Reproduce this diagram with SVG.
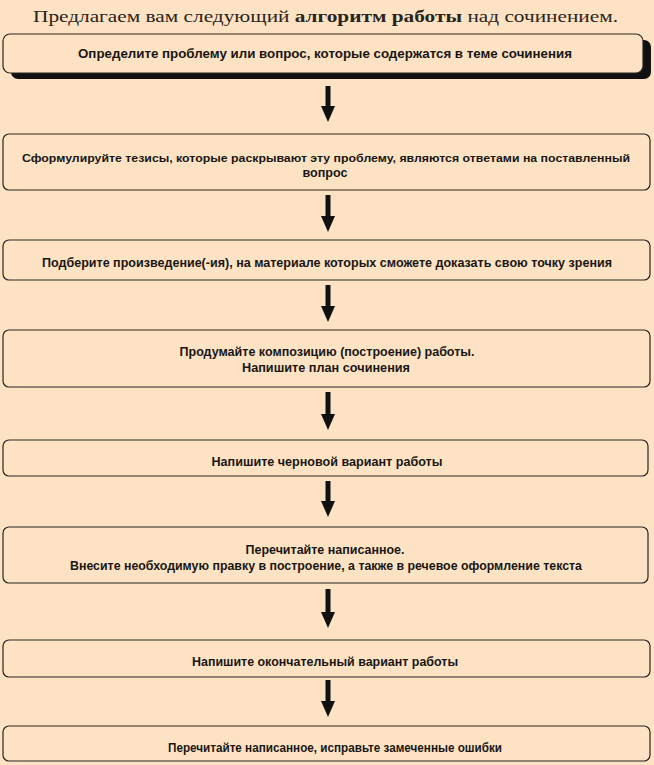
<svg xmlns="http://www.w3.org/2000/svg" width="654" height="765" viewBox="0 0 654 765">
<style>
.box{fill:#fde3c3;stroke:#2a2420;stroke-width:1.2}
.t{font-family:"Liberation Sans","DejaVu Sans",sans-serif;font-size:13px;font-weight:bold;fill:#1a1614;text-anchor:middle}
.title{font-family:"Liberation Serif","DejaVu Serif",serif;font-size:17.5px;fill:#2a2420}
.shaft{stroke:#111;stroke-width:5}
</style>
<defs>
<marker id="ah" markerWidth="3.2" markerHeight="2.8" refX="1" refY="7" orient="auto" markerUnits="strokeWidth" viewBox="0 0 16 14">
<path d="M0,0 L16,7 L0,14 Z" fill="#111"/>
</marker>
</defs>
<rect width="654" height="765" fill="#fde3c3"/>
<text class="title" x="33" y="22" textLength="585" lengthAdjust="spacingAndGlyphs">Предлагаем вам следующий <tspan font-weight="bold">алгоритм работы</tspan> над сочинением.</text>

<g id="connectors">
<line class="shaft" x1="328" y1="86" x2="328" y2="107" marker-end="url(#ah)"/>
<line class="shaft" x1="328" y1="195" x2="328" y2="217" marker-end="url(#ah)"/>
<line class="shaft" x1="328" y1="285" x2="328" y2="307" marker-end="url(#ah)"/>
<line class="shaft" x1="328" y1="392" x2="328" y2="415" marker-end="url(#ah)"/>
<line class="shaft" x1="328" y1="481" x2="328" y2="502" marker-end="url(#ah)"/>
<line class="shaft" x1="328" y1="589" x2="328" y2="613" marker-end="url(#ah)"/>
<line class="shaft" x1="328" y1="680" x2="328" y2="702" marker-end="url(#ah)"/>
</g>

<g id="n1">
<rect x="11" y="40" width="640" height="39" rx="7" fill="#111"/>
<rect class="box" x="3" y="34" width="640" height="39" rx="7"/>
<text class="t" x="325" y="58" textLength="494" lengthAdjust="spacingAndGlyphs">Определите проблему или вопрос, которые содержатся в теме сочинения</text>
</g>
<g id="n2">
<rect class="box" x="3" y="134" width="647" height="56" rx="6"/>
<text class="t" x="326" y="162" style="font-size:11.5px" textLength="608" lengthAdjust="spacingAndGlyphs">Сформулируйте тезисы, которые  раскрывают эту проблему, являются ответами на поставленный</text>
<text class="t" x="325" y="177" textLength="45" lengthAdjust="spacingAndGlyphs">вопрос</text>
</g>
<g id="n3">
<rect class="box" x="3" y="240" width="647" height="40" rx="6"/>
<text class="t" x="327" y="267" textLength="570" lengthAdjust="spacingAndGlyphs">Подберите  произведение(-ия),  на материале которых сможете доказать свою точку зрения</text>
</g>
<g id="n4">
<rect class="box" x="3" y="330" width="647" height="57" rx="6"/>
<text class="t" x="327" y="356" textLength="295" lengthAdjust="spacingAndGlyphs">Продумайте композицию (построение) работы.</text>
<text class="t" x="326" y="372" textLength="168" lengthAdjust="spacingAndGlyphs">Напишите план  сочинения</text>
</g>
<g id="n5">
<rect class="box" x="3" y="440" width="645" height="36" rx="6"/>
<text class="t" x="327" y="466" textLength="231" lengthAdjust="spacingAndGlyphs">Напишите  черновой вариант работы</text>
</g>
<g id="n6">
<rect class="box" x="3" y="527" width="645" height="56" rx="6"/>
<text class="t" x="325" y="554" textLength="159" lengthAdjust="spacingAndGlyphs">Перечитайте написанное.</text>
<text class="t" x="326" y="570" textLength="512" lengthAdjust="spacingAndGlyphs">Внесите необходимую правку в построение, а также в речевое оформление текста</text>
</g>
<g id="n7">
<rect class="box" x="3" y="640" width="647" height="37" rx="6"/>
<text class="t" x="325" y="666" textLength="266" lengthAdjust="spacingAndGlyphs">Напишите  окончательный вариант работы</text>
</g>
<g id="n8">
<rect class="box" x="3" y="726" width="647" height="35" rx="6"/>
<text class="t" x="335" y="752" textLength="334" lengthAdjust="spacingAndGlyphs">Перечитайте написанное, исправьте замеченные ошибки</text>
</g>
</svg>
